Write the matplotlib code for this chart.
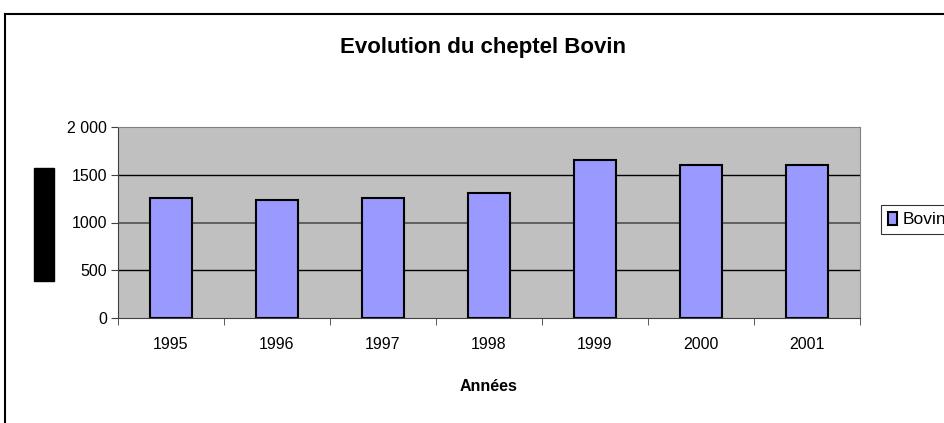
import matplotlib
matplotlib.use("Agg")
import matplotlib.pyplot as plt
import numpy as np
from matplotlib.lines import Line2D
from matplotlib.patches import Rectangle

# data
years = ['1995', '1996', '1997', '1998', '1999', '2000', '2001']
bovin = [1260, 1232, 1260, 1312, 1651, 1602, 1602]
y_ticks = [0, 500, 1000, 1500, 2000]
y_labels = ['0', '500', '1000', '1500', '2 000']

plt.rcParams['font.family'] = ['Liberation Sans', 'DejaVu Sans']

W, H = 945, 423
fig = plt.figure(figsize=(W / 100, H / 100), dpi=100)

# plot area in pixels
left, right, top, bottom = 118, 860, 127, 318
ax = fig.add_axes([left / W, 1 - bottom / H, (right - left) / W, (bottom - top) / H])
ax.set_facecolor('#c0c0c0')

index = np.arange(len(years))
ax.bar(index, bovin, 0.39, color='#9999ff', edgecolor='black', linewidth=1.5,
       label='Bovin', zorder=3)

ax.set_xlim(-0.5, len(years) - 0.5)
ax.set_ylim(0, 2000)
ax.set_yticks(y_ticks)
ax.set_yticklabels(y_labels)

# grid lines
for v in y_ticks[1:-1]:
    ax.axhline(v, color='#606060' if v == 1000 else 'black',
               linewidth=1.4 if v == 1000 else 1.0, zorder=1)

ax.set_xticks(index)
ax.set_xticklabels(years)
ax.set_xticks(np.arange(-0.5, len(years)), minor=True)
ax.tick_params(axis='x', which='major', length=0, pad=14, labelsize=11.5)
ax.tick_params(axis='x', which='minor', length=5, color='#404040')
ax.tick_params(axis='y', length=5, color='#404040', labelsize=11.5, pad=3)

for side in ['top', 'right']:
    ax.spines[side].set_color('#808080')
for side in ['left', 'bottom']:
    ax.spines[side].set_color('#404040')

ax.set_xlabel('Années', fontsize=11.5, fontweight='bold', labelpad=19)

fig.text(483 / W, 1 - 48 / H, 'Evolution du cheptel Bovin', fontsize=16,
         fontweight='bold', ha='center', va='center')

# the black block where the y axis title should be
fig.patches.append(Rectangle((34 / W, 1 - 281 / H), 20 / W, 113 / H,
                             transform=fig.transFigure, color='black'))

# outer chart frame
fig.add_artist(Line2D([5 / W, 1], [1 - 14 / H, 1 - 14 / H], color='black',
                      linewidth=1.5, transform=fig.transFigure))
fig.add_artist(Line2D([5 / W, 5 / W], [1 - 14 / H, 0], color='black',
                      linewidth=1.5, transform=fig.transFigure))

leg = fig.legend(loc='upper left', bbox_to_anchor=(881 / W, 1 - 205 / H),
                 fontsize=12.5, frameon=True, fancybox=False, edgecolor='black',
                 handlelength=0.55, handleheight=0.75, handletextpad=0.3,
                 borderpad=0.4, borderaxespad=0)
leg.get_frame().set_linewidth(0.8)

fig.savefig('out.png', dpi=100)
